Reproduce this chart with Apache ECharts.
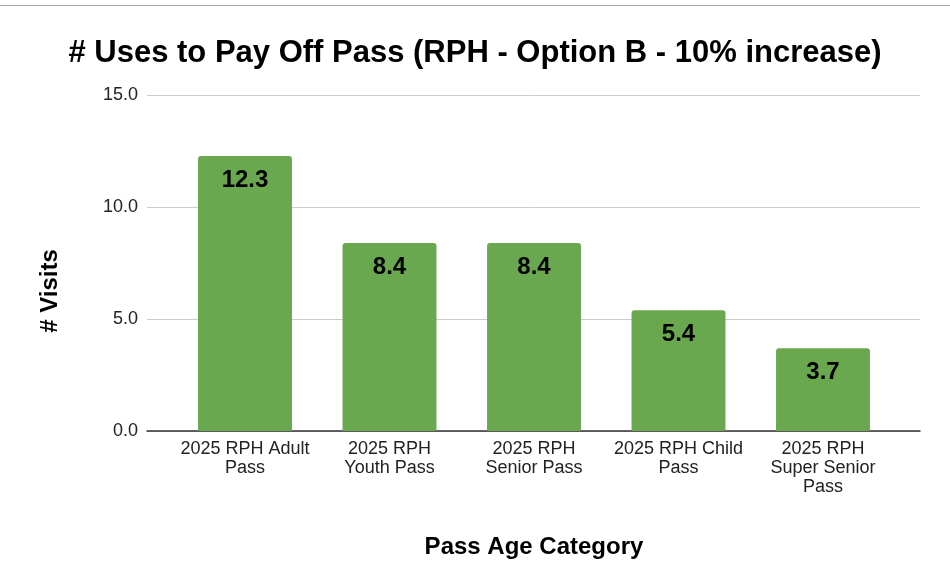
<!DOCTYPE html>
<html>
<head>
<meta charset="utf-8">
<script src="https://cdn.jsdelivr.net/npm/echarts@6/dist/echarts.min.js"></script>
<style>html,body{margin:0;padding:0;background:#fff;}#c{width:950px;height:586px;}</style>
</head>
<body>
<div id="c"></div>
<script>
const titleText = '# Uses to Pay Off Pass (RPH - Option B - 10% increase)';
const categories = ['2025 RPH Adult\nPass', '2025 RPH\nYouth Pass', '2025 RPH\nSenior Pass', '2025 RPH Child\nPass', '2025 RPH\nSuper Senior\nPass'];
const visits = [12.3, 8.4, 8.4, 5.4, 3.7];
const yTicks = [0, 5, 10, 15];
const xName = 'Pass Age Category';
const yName = '# Visits';

const FONT = "'Liberation Sans', Arial, sans-serif";
const chart = echarts.init(document.getElementById('c'), null, {renderer: 'canvas'});
const yMin = yTicks[0], yMax = yTicks[yTicks.length - 1], yInt = yTicks[1] - yTicks[0];
chart.setOption({
  animation: false,
  backgroundColor: '#ffffff',
  textStyle: {fontFamily: FONT},
  title: {
    text: titleText, left: 'center', top: 33,
    textStyle: {fontFamily: FONT, fontSize: 31, fontWeight: 'bold', color: '#000'}
  },
  graphic: [
    {type: 'line', shape: {x1: 0, y1: 5.5, x2: 950, y2: 5.5}, style: {stroke: '#aaaaaa', lineWidth: 1}},
    {type: 'text', x: 50, y: 291, rotation: Math.PI / 2,
     style: {text: yName, font: "bold 24px 'Liberation Sans', Arial, sans-serif", fill: '#000', align: 'center', verticalAlign: 'middle'}}
  ],
  grid: [
    {left: 147, right: 30, top: 95.5, bottom: 155},
    {left: 172.75, right: 54.75, top: 95.5, bottom: 155}
  ],
  xAxis: [
    {type: 'category', gridIndex: 0, data: categories,
     axisLine: {show: true, lineStyle: {color: '#333', width: 1.5}},
     axisTick: {show: false}, axisLabel: {show: false}, splitLine: {show: false}},
    {type: 'category', gridIndex: 1, data: categories,
     axisLine: {show: false}, axisTick: {show: false},
     axisLabel: {fontFamily: FONT, fontSize: 18, color: '#222', lineHeight: 19, margin: 9, interval: 0},
     name: xName, nameLocation: 'middle', nameGap: 104,
     nameTextStyle: {fontFamily: FONT, fontSize: 24, fontWeight: 'bold', color: '#000'}}
  ],
  yAxis: [
    {type: 'value', gridIndex: 0, min: yMin, max: yMax, interval: yInt,
     axisLine: {show: false}, axisTick: {show: false},
     axisLabel: {fontFamily: FONT, fontSize: 18, color: '#222', margin: 9, formatter: v => v.toFixed(1)},
     splitLine: {show: true, lineStyle: {color: '#cccccc', width: 1}}},
    {type: 'value', gridIndex: 1, min: yMin, max: yMax, interval: yInt, show: false, splitLine: {show: false}}
  ],
  series: [{
    type: 'bar', xAxisIndex: 1, yAxisIndex: 1, data: visits,
    barCategoryGap: '35%',
    itemStyle: {color: '#6aa84f', borderRadius: [3, 3, 0, 0]},
    label: {show: true, position: 'insideTop', distance: 12, fontFamily: FONT, fontSize: 24, fontWeight: 'bold', color: '#000',
            formatter: p => p.value.toFixed(1)}
  }]
});
</script>
</body>
</html>
